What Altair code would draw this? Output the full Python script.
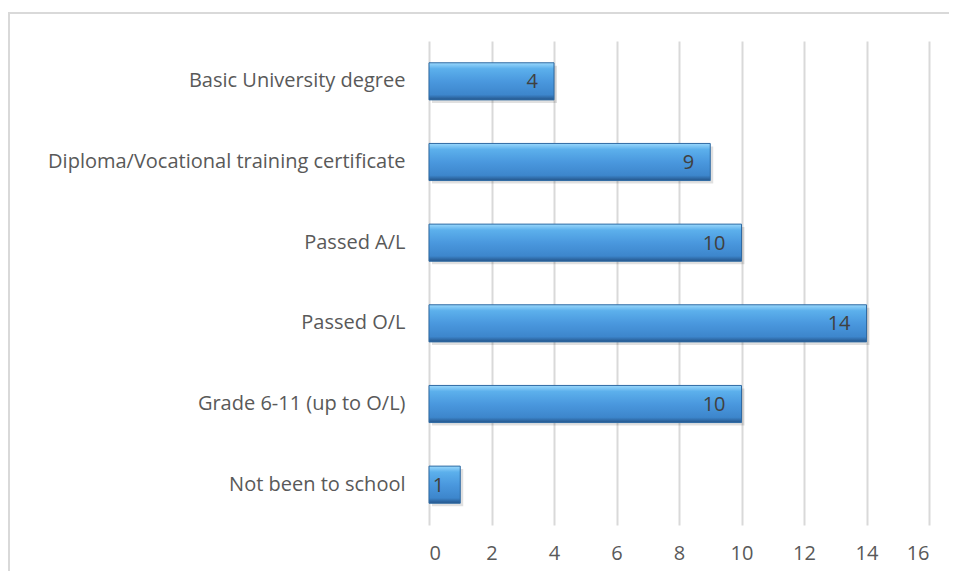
import altair as alt
import pandas as pd

categories = [
    "Basic University degree",
    "Diploma/Vocational training certificate",
    "Passed A/L",
    "Passed O/L",
    "Grade 6-11 (up to O/L)",
    "Not been to school",
]
values = [4, 9, 10, 14, 10, 1]
x_ticks = [0, 2, 4, 6, 8, 10, 12, 14, 16]

df = pd.DataFrame({"category": categories, "value": values})

FONT = "Open Sans"
TXT = "#595959"

grad = alt.Gradient(
    gradient="linear",
    x1=0, x2=0, y1=0, y2=1,
    stops=[
        alt.GradientStop(offset=0, color="#9ad8fc"),
        alt.GradientStop(offset=0.16, color="#5cb0ec"),
        alt.GradientStop(offset=0.5, color="#4a98de"),
        alt.GradientStop(offset=0.86, color="#3d86cc"),
        alt.GradientStop(offset=1, color="#24558a"),
    ],
)

y_enc = alt.Y(
    "category:N",
    sort=categories,
    scale=alt.Scale(paddingInner=0.54, paddingOuter=0.27),
    axis=alt.Axis(
        title=None, ticks=False, domain=False, grid=False,
        labelFont=FONT, labelFontSize=20, labelColor=TXT,
        labelPadding=24, labelLimit=500,
    ),
)
x_enc = alt.X(
    "value:Q",
    scale=alt.Scale(domain=[0, 16], nice=False),
    axis=alt.Axis(
        title=None, values=x_ticks, ticks=False, domain=False,
        grid=True, gridColor="#d9d9d9", gridWidth=2,
        labelFont=FONT, labelFontSize=20, labelColor=TXT,
        labelPadding=18,
    ),
)

base = alt.Chart(df)

frame = alt.Chart(pd.DataFrame({"a": [0]})).mark_rect(
    fill=None, stroke="#d9d9d9", strokeWidth=2
).encode(
    x=alt.value(-420), x2=alt.value(700), y=alt.value(-28), y2=alt.value(700)
)

shadow = base.mark_bar(color="#000000", opacity=0.12, yOffset=3, xOffset=3).encode(
    y=y_enc, x=x_enc
)

bars = base.mark_bar(fill=grad, stroke="#2f6aa3", strokeWidth=1).encode(
    y=y_enc, x=x_enc
)

labels = base.mark_text(
    align="right", baseline="middle", dx=-16, dy=1,
    font=FONT, fontSize=20, color="#404040"
).encode(y=y_enc, x=x_enc, text="value:Q")

chart = alt.layer(frame, shadow, bars, labels).properties(
    width=500, height=484,
    padding={"left": 421, "top": 33, "right": 20, "bottom": 46},
    autosize=alt.AutoSizeParams(type="none"),
).configure_view(stroke=None)

chart.save("out.html", embed_options={"renderer": "svg", "actions": False})
